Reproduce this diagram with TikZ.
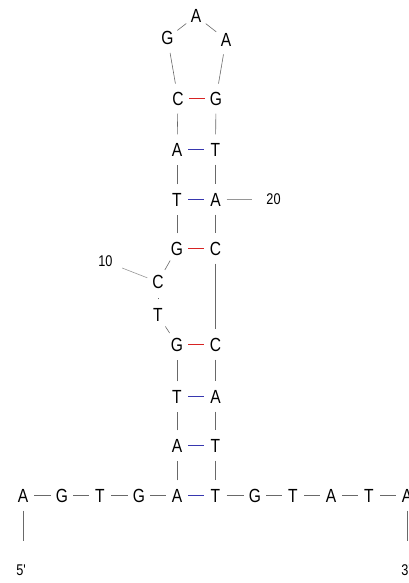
\documentclass[tikz,border=0pt]{standalone}
\usepackage{fontspec}
\setmainfont{Liberation Sans}
\newfontfamily\nfont[FakeStretch=0.82]{Liberation Sans}
\usetikzlibrary{shapes.geometric}
\definecolor{bbc}{RGB}{105,105,105}
\definecolor{bbl}{RGB}{150,150,150}
\definecolor{gcred}{RGB}{215,35,35}
\definecolor{atblue}{RGB}{55,55,175}
\begin{document}
\begin{tikzpicture}[x=1pt,y=-1pt,
  nt/.style={ellipse,inner sep=0pt,minimum width=22pt,minimum height=30pt,
    font=\nfont\fontsize{19}{19}\selectfont,text height=13.6pt,text depth=0pt},
  lab/.style={inner sep=1pt,font=\nfont\fontsize{15.5}{15.5}\selectfont},
  bb/.style={draw=bbc,line width=0.6pt},
  bbg/.style={draw=bbl,line width=0.6pt},
  gcpair/.style={draw=gcred,line width=1pt},
  atpair/.style={draw=atblue,line width=1pt}]
\useasboundingbox (0,0) rectangle (408,583);
% bottom strand
\node[nt] (n1)  at (23,495.5)  {A};
\node[nt] (n2)  at (62,495.5)  {G};
\node[nt] (n3)  at (100,495.5) {T};
\node[nt] (n4)  at (139,495.5) {G};
\node[nt] (n5)  at (177,495.5) {A};
% left stem
\node[nt] (n6)  at (177,445.5) {A};
\node[nt] (n7)  at (177,396.5) {T};
\node[nt] (n8)  at (177,344.5) {G};
\node[nt] (n9)  at (158,315) {T};
\node[nt] (n10) at (158,282) {C};
\node[nt] (n11) at (177,248.5) {G};
\node[nt] (n12) at (177,199.5) {T};
\node[nt] (n13) at (177,149.5) {A};
\node[nt] (n14) at (178,98.5) {C};
% loop
\node[nt] (n15) at (167.5,38) {G};
\node[nt] (n16) at (196,16) {A};
\node[nt] (n17) at (226,39.5) {A};
% right stem
\node[nt] (n18) at (216,98.5) {G};
\node[nt] (n19) at (215.5,149.5) {T};
\node[nt] (n20) at (215.5,199.5) {A};
\node[nt] (n21) at (215.5,248.5) {C};
\node[nt] (n22) at (215.5,344.5) {C};
\node[nt] (n23) at (215.5,396.5) {A};
\node[nt] (n24) at (215.5,445.5) {T};
\node[nt] (n25) at (215.5,495.5) {T};
\node[nt] (n26) at (255,495.5) {G};
\node[nt] (n27) at (293,495.5) {T};
\node[nt] (n28) at (331,495.5) {A};
\node[nt] (n29) at (369,495.5) {T};
\node[nt] (n30) at (407,495.5) {A};
% labels
\node[lab] (l10) at (105.5,261.5) {10};
\node[lab] (l20) at (273.5,199.5) {20};
\node[lab] (l5)  at (21,570) {5'};
\node[lab] (l3)  at (406,570) {3'};
% backbone
\foreach \a/\b in {1/2,2/3,3/4,4/5,5/6,6/7,7/8,8/9,10/11,11/12,12/13,13/14,14/15,15/16,16/17,17/18,18/19,19/20,20/21,21/22,22/23,23/24,24/25,25/26,26/27,27/28,28/29,29/30}
  \draw[bb] (n\a) -- (n\b);
\draw[bb,shorten <=0.5pt,shorten >=0.5pt] (n9) -- (n10);
% base pairs
\draw[atpair] (n5) -- (n25);
\draw[atpair] (n6) -- (n24);
\draw[atpair] (n7) -- (n23);
\draw[gcpair] (n8) -- (n22);
\draw[gcpair] (n11) -- (n21);
\draw[atpair] (n12) -- (n20);
\draw[atpair] (n13) -- (n19);
\draw[gcpair] (n14) -- (n18);
% numbering ticks
\draw[bbg,shorten <=9pt] (l10) -- (n10);
\draw[bbg,shorten >=13pt] (n20) -- (l20);
\draw[bb,shorten >=29pt] (n1) -- (n1 |- l5);
\draw[bb,shorten >=29pt] (n30) -- (n30 |- l3);
\end{tikzpicture}
\end{document}
